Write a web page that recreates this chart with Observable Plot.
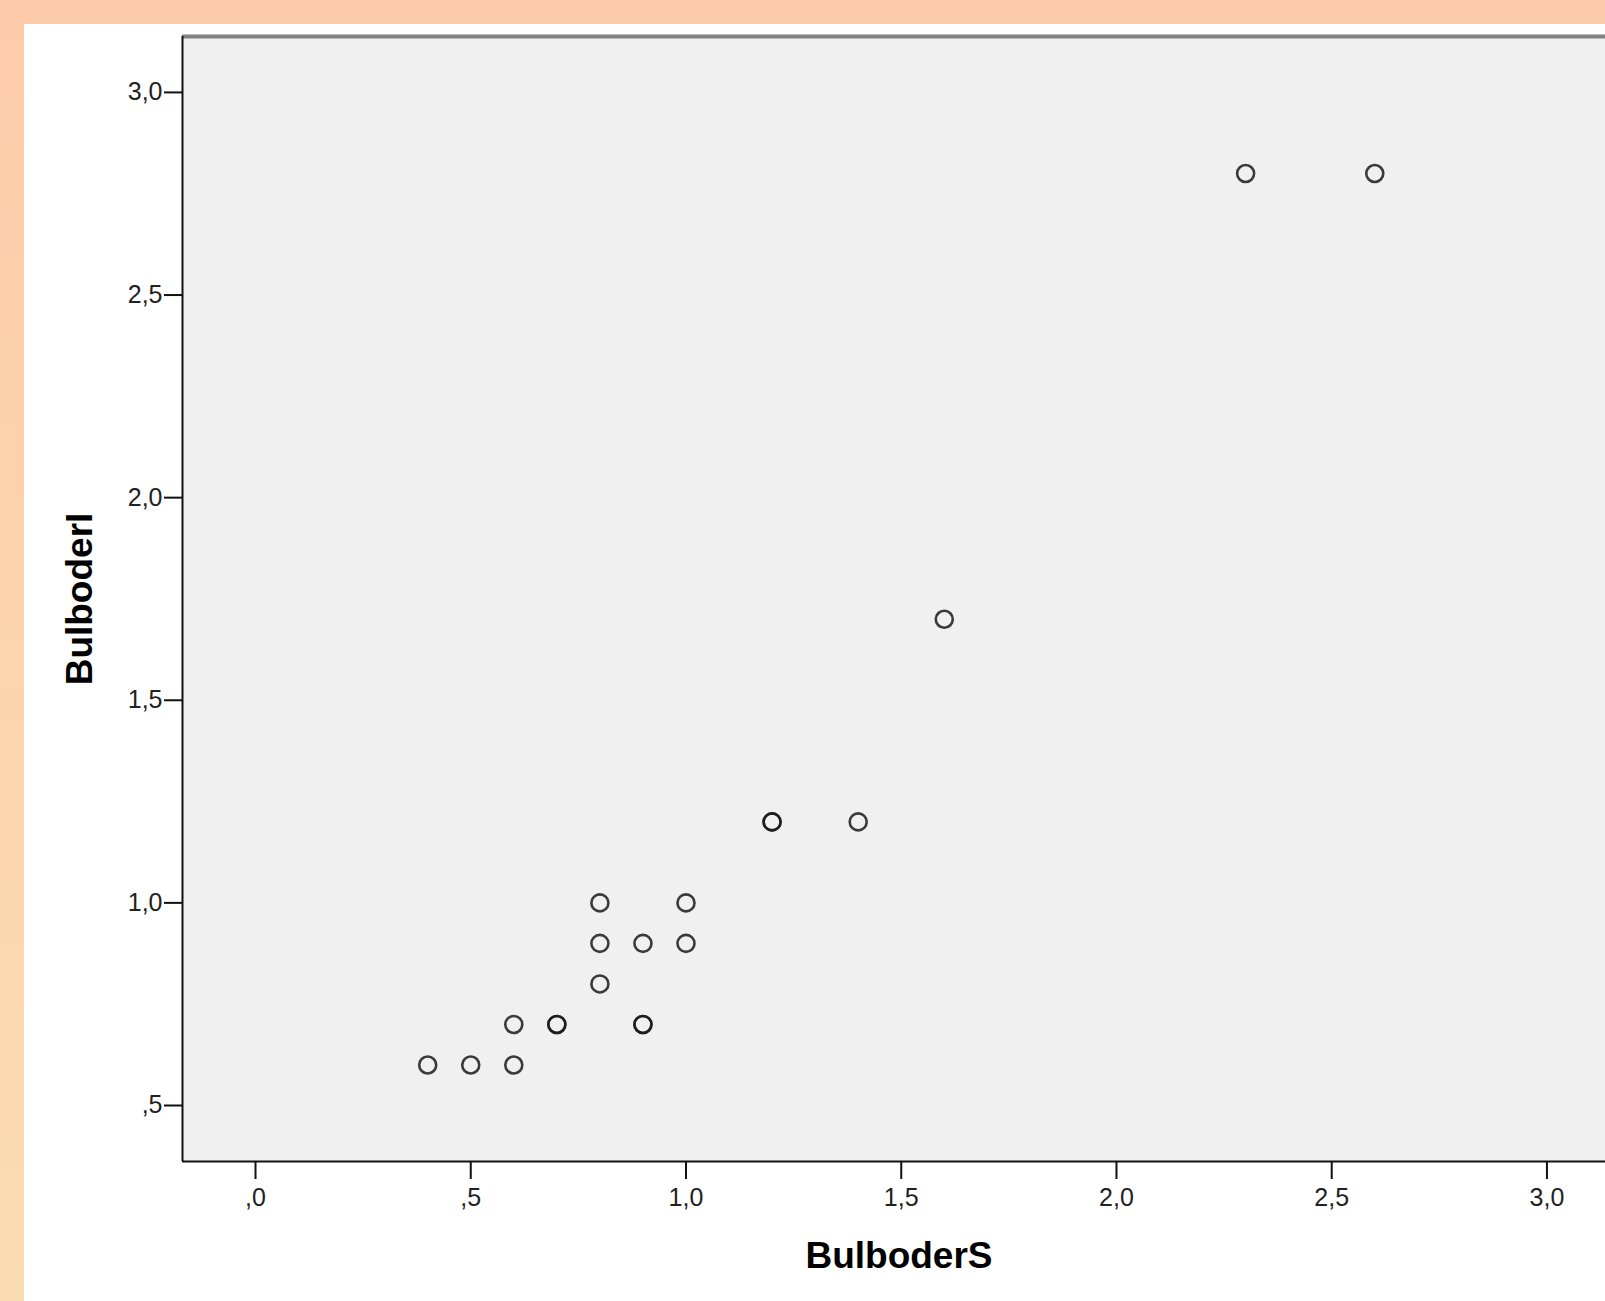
<!DOCTYPE html>
<html>
<head>
<meta charset="utf-8">
<script src="https://cdn.jsdelivr.net/npm/d3@7"></script>
<script src="https://cdn.jsdelivr.net/npm/@observablehq/plot@0.6"></script>
<style>
  html, body { margin: 0; padding: 0; width: 1605px; height: 1301px; overflow: hidden; }
  body { background: linear-gradient(to bottom, #FECBAA 0%, #FCD2AC 40%, #FADCB3 100%); position: relative; }
  #panel { position: absolute; left: 24px; top: 24px; width: 1581px; height: 1277px; background: #ffffff; }
  svg { display: block; }
</style>
</head>
<body>
<div id="panel"></div>
<script>
// Data
const bulboderS = [0.4, 0.5, 0.6, 0.6, 0.7, 0.7, 0.8, 0.8, 0.8, 0.9, 0.9, 0.9, 1.0, 1.0, 1.2, 1.2, 1.4, 1.6, 2.3, 2.6];
const bulboderI = [0.6, 0.6, 0.6, 0.7, 0.7, 0.7, 0.8, 0.9, 1.0, 0.9, 0.7, 0.7, 1.0, 0.9, 1.2, 1.2, 1.2, 1.7, 2.8, 2.8];

const xTicks = [0, 0.5, 1.0, 1.5, 2.0, 2.5, 3.0];
const xTickLabels = [",0", ",5", "1,0", "1,5", "2,0", "2,5", "3,0"];
const yTicks = [0.5, 1.0, 1.5, 2.0, 2.5, 3.0];
const yTickLabels = [",5", "1,0", "1,5", "2,0", "2,5", "3,0"];

const xTitle = "BulboderS";
const yTitle = "BulboderI";

const xDomain = [-0.1696, 3.136];
const yDomain = [0.3618, 3.138];

const points = bulboderS.map((s, i) => ({s, i: bulboderI[i]}));

const chart = Plot.plot({
  width: 1581,
  height: 1277,
  marginLeft: 158,
  marginTop: 12,
  marginBottom: 140,
  marginRight: 0,
  style: { fontFamily: "Arial, 'Liberation Sans', sans-serif", background: "transparent" },
  x: { domain: xDomain },
  y: { domain: yDomain },
  marks: [
    Plot.frame({ fill: "#F0F0F0", stroke: null }),
    Plot.ruleY([yDomain[1]], { stroke: "#808080", strokeWidth: 4 }),
    Plot.ruleX([xDomain[0]], { stroke: "#111", strokeWidth: 2 }),
    Plot.ruleY([yDomain[0]], { stroke: "#111", strokeWidth: 2 }),
    Plot.axisX({
      ticks: xTicks,
      tickFormat: d => xTickLabels[xTicks.indexOf(d)],
      tickSize: 18, tickPadding: 9, fontSize: 25,
      stroke: "#111", strokeWidth: 2, fill: "#222", label: null
    }),
    Plot.axisY({
      ticks: yTicks,
      tickFormat: d => yTickLabels[yTicks.indexOf(d)],
      tickSize: 18, tickPadding: 2, fontSize: 25,
      stroke: "#111", strokeWidth: 2, fill: "#222", label: null
    }),
    Plot.dot(points, { x: "s", y: "i", r: 8.5, stroke: "#1a1a1a", strokeWidth: 2.6, fill: "none", strokeOpacity: 0.85 }),
    Plot.text([xTitle], { frameAnchor: "bottom", dx: 5, dy: 95, lineAnchor: "middle", textAnchor: "middle", text: d => d, fontSize: 37, fontWeight: "bold", fill: "#000" }),
    Plot.text([yTitle], { frameAnchor: "left", dx: -102, rotate: -90, lineAnchor: "middle", textAnchor: "middle", text: d => d, fontSize: 37, fontWeight: "bold", fill: "#000" })
  ]
});
document.getElementById("panel").appendChild(chart);
</script>
</body>
</html>
